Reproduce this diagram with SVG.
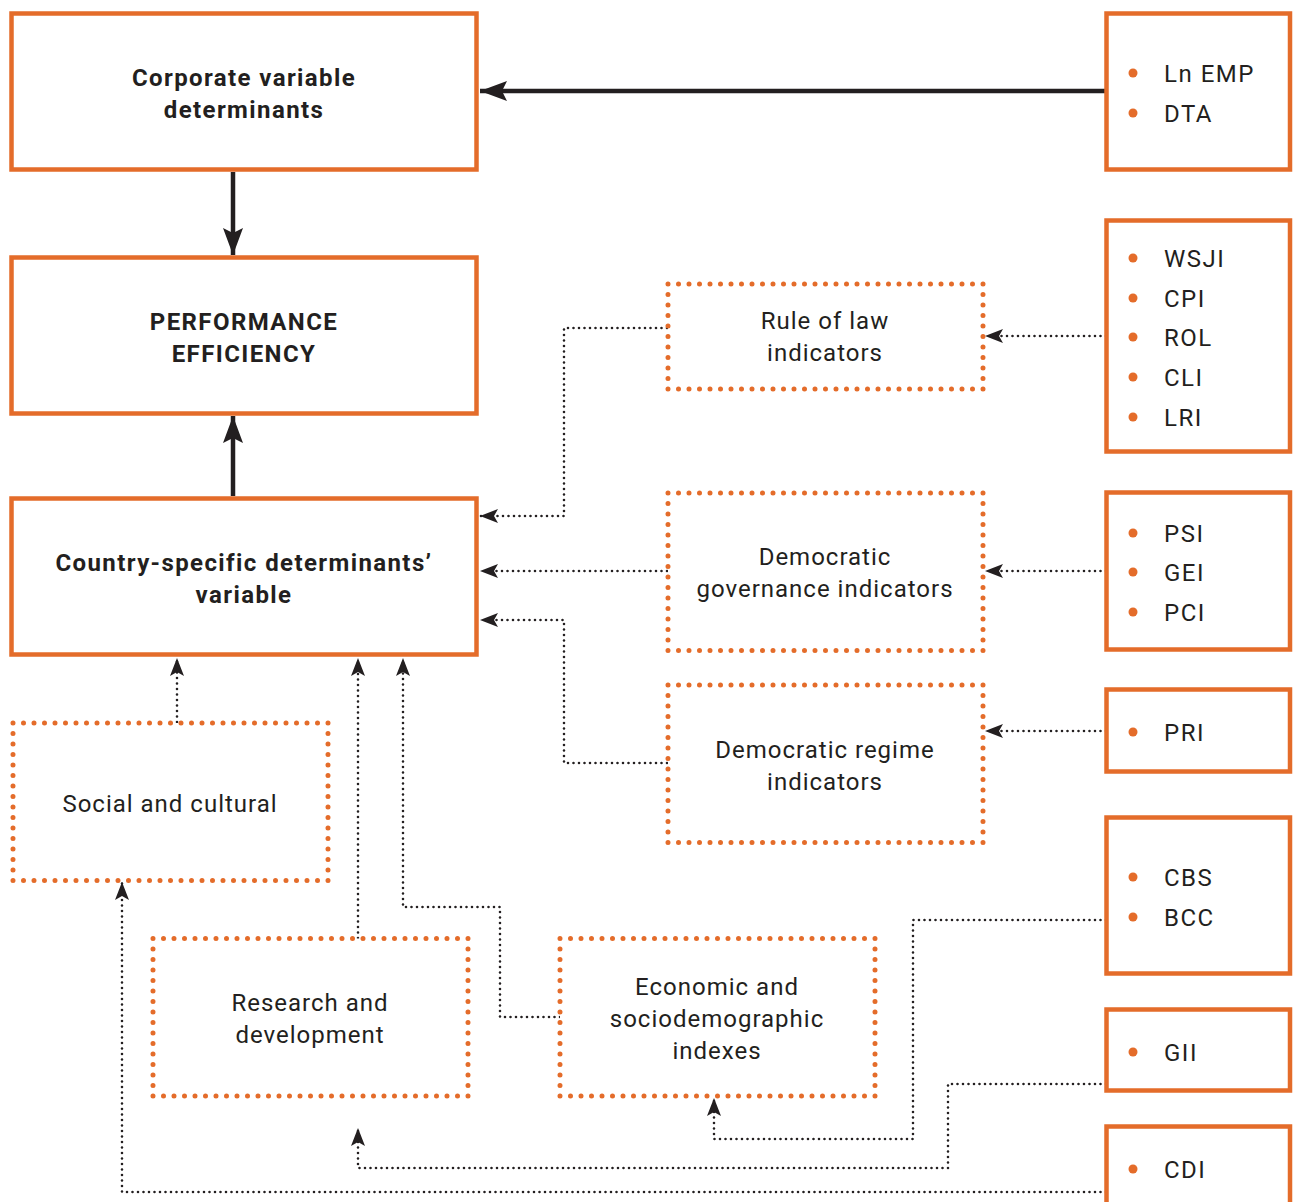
<svg xmlns="http://www.w3.org/2000/svg" width="1293" height="1202" viewBox="0 0 1293 1202">
<defs>
<style>
.box{fill:#fff;stroke:#E46C2A;stroke-width:4.5}
.dbox{fill:#fff;stroke:#E46C2A;stroke-width:5;stroke-dasharray:0 10.5;stroke-linecap:round}
.t{font-family:Roboto,"Liberation Sans",sans-serif;font-size:24px;letter-spacing:1px;fill:#231f20;text-anchor:middle}
.b{font-family:Roboto,"Liberation Sans",sans-serif;font-size:24px;font-weight:bold;letter-spacing:1.4px;fill:#231f20;text-anchor:middle}
.l{font-family:Roboto,"Liberation Sans",sans-serif;font-size:24px;letter-spacing:1.5px;fill:#231f20}
.dot{fill:#E46C2A}
.solid{fill:none;stroke:#231f20;stroke-width:4.5;marker-end:url(#as)}
.dash{fill:none;stroke:#231f20;stroke-width:2.6;stroke-dasharray:0 5.5;stroke-linecap:round;marker-end:url(#ad)}
</style>
<marker id="as" markerUnits="userSpaceOnUse" markerWidth="28" markerHeight="22" refX="27" refY="10" orient="auto">
<path d="M0,0 L27,10 L0,20 L5,10 Z" fill="#231f20"/>
</marker>
<marker id="ad" markerUnits="userSpaceOnUse" markerWidth="19" markerHeight="15" refX="18" refY="7" orient="auto">
<path d="M0,0 L18,7 L0,14 L4,7 Z" fill="#231f20"/>
</marker>
</defs>
<rect width="1293" height="1202" fill="#fff"/>

<g id="connectors">
<path class="solid" d="M1106,91 H480"/>
<path class="solid" d="M233,172 V255"/>
<path class="solid" d="M233,496 V416"/>
<path class="dash" d="M667,328 H564 V516 H480"/>
<path class="dash" d="M667,571 H480"/>
<path class="dash" d="M667,763 H564 V620 H480"/>
<path class="dash" d="M1106,336 H985"/>
<path class="dash" d="M1106,571 H985"/>
<path class="dash" d="M1106,731 H985"/>
<path class="dash" d="M177,722 V658"/>
<path class="dash" d="M358,938 V658"/>
<path class="dash" d="M560,1017 H500 V907 H403 V658"/>
<path class="dash" d="M1106,920 H913 V1139 H714 V1098"/>
<path class="dash" d="M1106,1084 H948 V1168 H358 V1128"/>
<path class="dash" d="M1106,1192 H122 V882"/>
</g>

<g id="corporate">
<rect class="box" x="11.5" y="13.5" width="465" height="156"/>
<text class="b" x="244" y="86">Corporate variable</text>
<text class="b" x="244" y="118">determinants</text>
</g>
<g id="performance">
<rect class="box" x="11.5" y="257.5" width="465" height="156"/>
<text class="b" x="244" y="330">PERFORMANCE</text>
<text class="b" x="244" y="362">EFFICIENCY</text>
</g>
<g id="country">
<rect class="box" x="11.5" y="498.5" width="465" height="156"/>
<text class="b" x="244" y="571">Country-specific determinants’</text>
<text class="b" x="244" y="603">variable</text>
</g>

<g id="rule-of-law">
<rect class="dbox" x="668" y="284" width="315" height="105"/>
<text class="t" x="825" y="329">Rule of law</text>
<text class="t" x="825" y="361">indicators</text>
</g>
<g id="dem-governance">
<rect class="dbox" x="668" y="493" width="315" height="157.5"/>
<text class="t" x="825" y="565">Democratic</text>
<text class="t" x="825" y="597">governance indicators</text>
</g>
<g id="dem-regime">
<rect class="dbox" x="668" y="685" width="315" height="157.5"/>
<text class="t" x="825" y="758">Democratic regime</text>
<text class="t" x="825" y="790">indicators</text>
</g>
<g id="social">
<rect class="dbox" x="13" y="723" width="315" height="157.5"/>
<text class="t" x="170" y="812">Social and cultural</text>
</g>
<g id="research">
<rect class="dbox" x="153" y="938.5" width="315" height="157.5"/>
<text class="t" x="310" y="1011">Research and</text>
<text class="t" x="310" y="1043">development</text>
</g>
<g id="economic">
<rect class="dbox" x="560" y="938.5" width="315" height="157.5"/>
<text class="t" x="717" y="995">Economic and</text>
<text class="t" x="717" y="1027">sociodemographic</text>
<text class="t" x="717" y="1059">indexes</text>
</g>

<g id="list-corporate">
<rect class="box" x="1106.5" y="13.5" width="183.5" height="156"/>
<circle class="dot" cx="1133" cy="73" r="4.5"/><text class="l" x="1164" y="82">Ln EMP</text>
<circle class="dot" cx="1133" cy="113" r="4.5"/><text class="l" x="1164" y="122">DTA</text>
</g>
<g id="list-rule">
<rect class="box" x="1106.5" y="220.5" width="183.5" height="231"/>
<circle class="dot" cx="1133" cy="258" r="4.5"/><text class="l" x="1164" y="267">WSJI</text>
<circle class="dot" cx="1133" cy="298" r="4.5"/><text class="l" x="1164" y="307">CPI</text>
<circle class="dot" cx="1133" cy="337" r="4.5"/><text class="l" x="1164" y="346">ROL</text>
<circle class="dot" cx="1133" cy="377" r="4.5"/><text class="l" x="1164" y="386">CLI</text>
<circle class="dot" cx="1133" cy="417" r="4.5"/><text class="l" x="1164" y="426">LRI</text>
</g>
<g id="list-gov">
<rect class="box" x="1106.5" y="492.5" width="183.5" height="157"/>
<circle class="dot" cx="1133" cy="533" r="4.5"/><text class="l" x="1164" y="542">PSI</text>
<circle class="dot" cx="1133" cy="572" r="4.5"/><text class="l" x="1164" y="581">GEI</text>
<circle class="dot" cx="1133" cy="612" r="4.5"/><text class="l" x="1164" y="621">PCI</text>
</g>
<g id="list-regime">
<rect class="box" x="1106.5" y="689.5" width="183.5" height="82"/>
<circle class="dot" cx="1133" cy="732" r="4.5"/><text class="l" x="1164" y="741">PRI</text>
</g>
<g id="list-econ">
<rect class="box" x="1106.5" y="817.5" width="183.5" height="156"/>
<circle class="dot" cx="1133" cy="877" r="4.5"/><text class="l" x="1164" y="886">CBS</text>
<circle class="dot" cx="1133" cy="917" r="4.5"/><text class="l" x="1164" y="926">BCC</text>
</g>
<g id="list-research">
<rect class="box" x="1106.5" y="1009.5" width="183.5" height="81"/>
<circle class="dot" cx="1133" cy="1052" r="4.5"/><text class="l" x="1164" y="1061">GII</text>
</g>
<g id="list-social">
<rect class="box" x="1106.5" y="1126.5" width="183.5" height="90"/>
<circle class="dot" cx="1133" cy="1169" r="4.5"/><text class="l" x="1164" y="1178">CDI</text>
</g>
</svg>
